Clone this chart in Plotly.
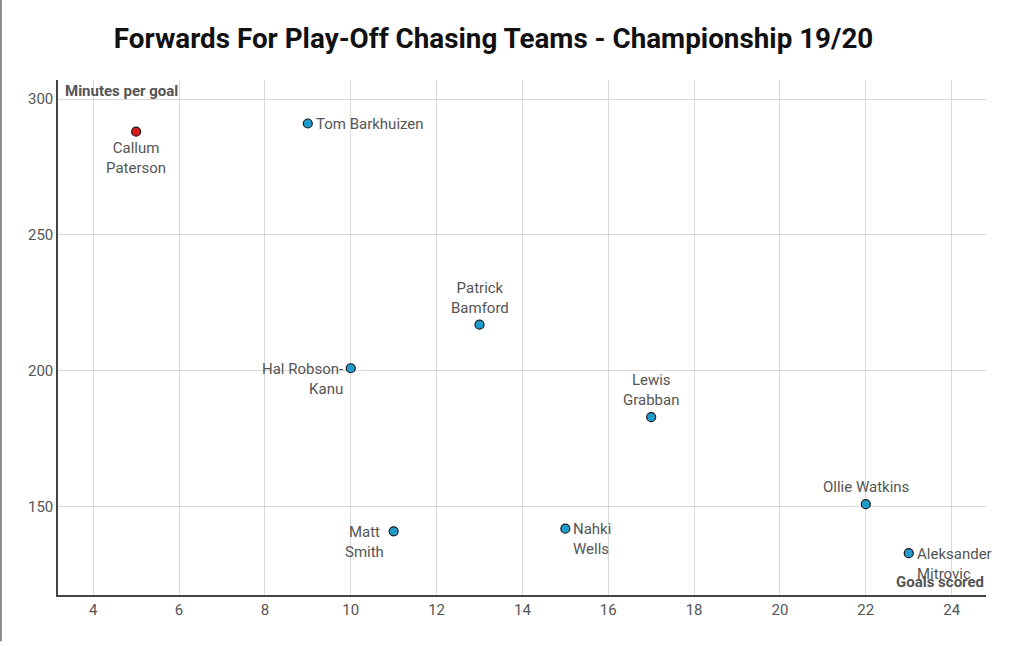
import plotly.graph_objects as go

players = ["Callum<br>Paterson", "Tom Barkhuizen", "Patrick<br>Bamford", "Hal Robson-<br>Kanu",
           "Lewis<br>Grabban", "Ollie Watkins", "Aleksander<br>Mitrovic", "Matt<br>Smith", "Nahki<br>Wells"]
goals = [5, 9, 13, 10, 17, 22, 23, 11, 15]
minutes_per_goal = [288, 291, 217, 201, 183, 151, 133, 141, 142]
highlight = [True, False, False, False, False, False, False, False, False]

x_ticks = [4, 6, 8, 10, 12, 14, 16, 18, 20, 22, 24]
y_ticks = [150, 200, 250, 300]

# label placement (style): xanchor, yanchor, xshift, yshift, align
placement = [
    ("center", "top", 0, -5, "center"),
    ("left", "middle", 6, 0, "left"),
    ("center", "bottom", 0, 6, "center"),
    ("right", "top", -6, 10, "right"),
    ("center", "bottom", 0, 6, "center"),
    ("center", "bottom", 0, 6, "center"),
    ("left", "top", 6, 10, "left"),
    ("right", "top", -8, 10, "center"),
    ("left", "top", 6, 11, "left"),
]

fig = go.Figure()
fig.add_trace(go.Scatter(
    x=goals, y=minutes_per_goal, mode="markers",
    marker=dict(size=9,
                color=["#d7191c" if h else "#1f9bcc" for h in highlight],
                line=dict(color="#1a1a1a", width=1.2)),
    hoverinfo="skip", showlegend=False,
))

for name, gx, gy, (xa, ya, xs, ys, al) in zip(players, goals, minutes_per_goal, placement):
    fig.add_annotation(x=gx, y=gy, text=name, showarrow=False, xanchor=xa, yanchor=ya,
                       xshift=xs, yshift=ys, align=al,
                       font=dict(family="Roboto", size=15, color="#555555"))

fig.add_annotation(xref="paper", yref="paper", x=0.005, y=1.0, yanchor="top", xanchor="left",
                   text="<b>Minutes per goal</b>", showarrow=False,
                   font=dict(family="Roboto", size=15, color="#555555"), yshift=0)
fig.add_annotation(xref="paper", yref="paper", x=1.0, y=0.0, yanchor="bottom", xanchor="right",
                   text="<b>Goals scored</b>", showarrow=False,
                   font=dict(family="Roboto", size=15, color="#555555"), yshift=2)

fig.add_shape(type="line", xref="paper", yref="paper", x0=-0.0615, x1=-0.0615, y0=-0.09, y1=1.16,
              line=dict(color="#8a8a8a", width=2))

fig.update_layout(
    width=1024, height=646,
    margin=dict(l=58, r=38, t=80, b=51),
    paper_bgcolor="white", plot_bgcolor="white",
    title=dict(text="<b>Forwards For Play-Off Chasing Teams - Championship 19/20</b>",
               x=0.482, xanchor="center", y=0.94, yanchor="middle",
               font=dict(family="Roboto", size=27.8, color="#111111")),
    font=dict(family="Roboto", color="#555555"),
    xaxis=dict(range=[3.18, 24.8], tickvals=x_ticks, showgrid=True, gridcolor="#d9d9d9",
               gridwidth=1, zeroline=False, showline=True, linecolor="#444444", linewidth=1.5,
               ticks="", tickfont=dict(size=15, color="#555555")),
    yaxis=dict(range=[117.6, 307], tickvals=y_ticks, showgrid=True, gridcolor="#d9d9d9",
               gridwidth=1, zeroline=False, showline=True, linecolor="#444444", linewidth=1.5,
               ticks="", tickfont=dict(size=15, color="#555555")),
)

fig.write_html("out.html")
